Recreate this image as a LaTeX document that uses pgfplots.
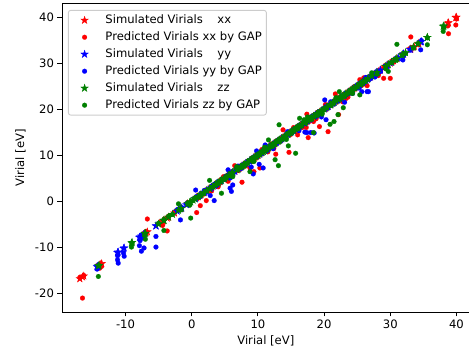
\documentclass[border=0pt]{standalone}
\usepackage{fontspec}
\setmainfont{DejaVu Sans}
\usepackage{pgfplots}
\usepackage{pgfplotstable}
\pgfplotsset{compat=1.18}
\definecolor{mred}{rgb}{1,0,0}
\definecolor{mblue}{rgb}{0,0,1}
\definecolor{mgreen}{rgb}{0,0.5,0}
\pgfdeclareplotmark{fstar}{%
  \pgfpathmoveto{\pgfpointpolar{90}{\pgfplotmarksize}}%
  \pgfpathlineto{\pgfpointpolar{126}{0.382\pgfplotmarksize}}%
  \pgfpathlineto{\pgfpointpolar{162}{\pgfplotmarksize}}%
  \pgfpathlineto{\pgfpointpolar{198}{0.382\pgfplotmarksize}}%
  \pgfpathlineto{\pgfpointpolar{234}{\pgfplotmarksize}}%
  \pgfpathlineto{\pgfpointpolar{270}{0.382\pgfplotmarksize}}%
  \pgfpathlineto{\pgfpointpolar{306}{\pgfplotmarksize}}%
  \pgfpathlineto{\pgfpointpolar{342}{0.382\pgfplotmarksize}}%
  \pgfpathlineto{\pgfpointpolar{18}{\pgfplotmarksize}}%
  \pgfpathlineto{\pgfpointpolar{54}{0.382\pgfplotmarksize}}%
  \pgfpathclose
  \pgfusepathqfillstroke}

\pgfplotstableread{
s p
-16.9 -16.6
-16.5 -21.1
-16.3 -16.2
-13.9 -14.6
-13.8 -13.9
-13.6 -14.2
-6.9 -6.6
-6.7 -3.9
-4.4 -5.3
-4.3 -4.3
-3.7 -6.5
-3.5 -3.4
-2.6 -2.4
-1.6 -1.5
-0.6 -0.3
0.75 -2.5
1.3 -1.0
0.9 0.8
1.8 1.5
2.2 0.1
2.6 2.3
3.0 2.2
3.4 3.2
4.0 3.1
4.2 4.3
4.8 5.3
5.2 5.4
5.5 4.3
5.9 5.2
6.1 5.5
6.5 7.7
6.9 6.6
7.2 6.8
7.6 4.1
7.9 7.6
8.2 7.7
8.8 7.2
8.9 8.6
9.4 6.4
9.6 9.3
10.0 9.6
10.3 7.2
10.6 11.2
11.2 11.0
11.5 10.7
11.8 11.5
12.0 12.4
12.4 11.4
12.7 10.2
13.0 12.8
13.4 13.1
13.8 15.5
14.2 14.0
14.5 14.9
14.7 10.6
14.8 14.4
15.4 16.0
15.7 15.2
16.0 14.4
16.4 16.1
16.7 16.0
17.0 16.9
17.3 16.0
17.4 18.9
17.6 13.8
17.9 17.5
18.1 17.9
18.4 17.3
18.8 17.9
19.0 19.3
19.3 16.2
19.6 19.3
20.2 21.0
20.5 20.4
20.6 15.1
21.0 20.8
21.3 21.5
21.7 23.3
22.0 21.7
22.2 18.8
22.5 22.2
22.8 21.6
23.3 22.3
23.6 22.6
23.9 23.6
24.2 24.0
24.5 24.8
25.0 24.6
25.4 26.4
25.7 25.2
26.0 26.8
26.5 25.1
27.0 26.7
27.3 27.0
27.6 27.3
28.2 27.3
28.5 28.2
29.0 26.7
29.2 28.9
29.6 29.4
30.0 26.7
30.5 30.2
31.0 30.8
32.0 31.8
33.0 33.2
33.1 35.7
33.6 33.3
34.3 34.0
38.7 38.1
38.8 36.4
39.9 38.3
40.0 39.6
}\xxdata

\pgfplotstableread{
s p
-14.3 -14.8
-14.1 -14.2
-14.2 -14.5
-11.2 -11.9
-11.2 -12.8
-11.1 -13.5
-10.3 -11.3
-10.2 -12.0
-7.9 -9.7
-7.8 -8.6
-7.6 -10.9
-7.2 -10.2
-7.3 -8.0
-5.4 -7.7
-5.4 -10.0
-2.2 -1.9
-1.7 -4.1
-1.5 -1.4
-0.8 -0.6
0.5 0.65
0.6 2.4
1.2 1.0
1.9 2.3
2.2 1.9
2.8 1.2
3.0 2.9
3.4 0.1
3.8 3.4
4.4 4.2
4.9 4.7
5.5 6.8
5.8 5.0
5.8 2.8
6.0 2.1
6.2 3.5
6.5 6.3
7.0 7.6
7.5 7.1
8.2 8.0
8.7 8.5
9.0 7.4
9.3 5.9
9.8 10.9
10.2 8.0
10.5 10.3
10.8 7.2
11.1 12.2
11.4 11.0
11.8 11.9
12.3 11.4
12.8 12.5
13.2 13.0
13.6 13.2
14.0 13.7
14.5 15.1
15.0 14.7
15.4 15.1
15.8 15.6
16.2 15.3
16.6 16.3
17.0 16.8
17.1 15.0
17.4 14.9
17.8 17.6
18.0 14.9
18.5 14.8
18.7 18.4
19.1 18.7
19.6 18.3
20.1 22.0
20.3 17.7
20.6 20.3
21.0 21.6
21.5 21.1
22.0 21.7
22.5 22.2
23.1 21.5
23.6 23.3
24.3 23.4
24.8 24.5
25.1 24.9
25.3 24.6
25.7 23.8
26.0 25.6
26.3 26.9
26.5 23.8
26.7 23.8
27.0 26.6
27.4 27.2
27.7 27.0
27.8 27.4
28.0 27.7
28.5 28.2
29.5 29.2
30.2 30.0
31.2 31.0
31.9 30.7
32.0 31.6
33.0 32.8
34.6 32.9
34.7 34.9
}\yydata

\pgfplotstableread{
s p
-14.1 -16.4
-14.0 -14.0
-9.1 -10.0
-9.0 -9.3
-7.1 -7.3
-7.0 -8.3
-5.0 -4.8
-4.2 -6.4
-4.2 -4.0
-3.5 -3.3
-2.9 -2.9
-2.0 -0.6
-1.6 -1.9
-0.6 -0.5
-0.3 -0.9
-0.15 -3.7
0.2 0.1
0.5 0.6
1.0 0.8
1.4 1.2
1.8 1.6
2.3 2.2
2.7 4.5
3.2 3.0
3.6 3.5
4.0 3.8
4.3 4.2
4.5 1.7
4.9 4.7
5.2 5.0
5.6 5.5
6.0 5.8
6.2 5.3
6.8 7.5
7.0 7.0
7.4 7.3
7.8 7.5
8.0 7.8
8.4 8.2
8.8 6.4
9.0 8.9
9.4 8.6
9.7 9.5
10.0 9.8
10.3 10.1
10.6 10.7
10.8 10.6
11.0 11.7
11.3 11.1
11.6 13.3
12.0 11.8
12.2 12.0
12.5 12.3
12.6 9.0
13.0 12.9
13.1 7.7
13.2 16.6
13.3 13.1
13.6 13.4
14.1 13.9
14.3 13.4
14.6 12.0
14.9 14.7
15.1 14.9
15.4 15.2
15.7 10.4
15.9 15.7
16.0 15.8
16.3 18.0
16.6 16.4
17.0 17.7
17.2 17.0
17.5 18.3
17.9 17.7
18.1 18.0
18.4 14.9
18.8 18.6
19.0 18.9
19.4 19.2
19.7 18.9
20.0 19.8
20.4 20.3
20.9 16.7
21.0 20.8
21.3 21.1
21.5 17.3
21.8 22.5
22.1 18.8
22.3 23.8
22.6 22.4
22.9 20.3
23.0 22.8
23.3 23.1
23.7 23.5
24.0 23.8
24.3 23.4
24.6 24.4
25.0 24.8
25.4 23.1
25.5 25.4
25.8 25.6
26.2 26.0
26.6 26.5
27.2 27.9
28.0 27.6
29.3 28.8
29.7 28.2
30.2 30.1
30.8 30.6
31.0 34.1
31.8 31.7
32.3 32.1
33.5 33.3
34.2 34.3
35.6 34.0
35.6 35.5
38.0 36.9
38.1 37.8
}\zzdata

\begin{document}
\begin{tikzpicture}
\begin{axis}[
  at={(0,0)}, anchor=south west, scale only axis,
  width=408pt, height=309pt,
  xmin=-19.6, xmax=42.0, ymin=-24.13, ymax=43.04,
  xtick={-10,0,10,20,30,40}, ytick={-20,-10,0,10,20,30,40},
  tick align=outside, tick pos=left, major tick length=4.5pt,
  axis line style={line width=0.9pt},
  every tick/.style={black, line width=0.9pt},
  /pgf/number format/assume math mode=true,
  tick label style={font=\fontsize{11.6}{13}\selectfont},
  xlabel={Virial [eV]}, ylabel={Virial [eV]},
  every axis x label/.style={at={(axis description cs:0.5,0)}, anchor=base, yshift=-33pt, inner sep=0pt, font=\fontsize{11.6}{13}\selectfont},
  every axis y label/.style={at={(axis description cs:-0.0931,0.5)}, rotate=90, anchor=base, inner sep=0pt, font=\fontsize{11.6}{13}\selectfont},
  legend cell align=left,
  legend style={at={(axis description cs:0.0147,0.9783)}, anchor=north west,
    draw=black!20, line width=0.9pt, rounded corners=2.3pt, fill=white,
    font=\fontsize{11.6}{13}\selectfont,
    inner xsep=4.6pt, inner ysep=1.4pt, row sep=0pt,
    nodes={text height=9.5pt, text depth=2.5pt, inner xsep=0pt, inner ysep=2.5pt},
    /tikz/every odd column/.append style={column sep=9.3pt}},
  legend image code/.code={\path[draw=none, fill=none] (-11.6pt,-3pt) rectangle (11.6pt,3pt); \draw[sharp corners, #1] plot coordinates {(0pt,0pt)};},
]
\addplot[only marks, mark=fstar, mark size=4pt, mark options={fill=mred, draw=mred, line width=0.3pt}] table[x=s, y=s] {\xxdata};
\addlegendentry{Simulated Virials\hspace{14.5pt}xx}
\addplot[only marks, mark=*, mark size=2.4pt, mark options={fill=mred, draw=mred, line width=0.2pt}] table[x=s, y=p] {\xxdata};
\addlegendentry{Predicted Virials xx by GAP}
\addplot[only marks, mark=fstar, mark size=4pt, mark options={fill=mblue, draw=mblue, line width=0.3pt}] table[x=s, y=s] {\yydata};
\addlegendentry{Simulated Virials\hspace{14.5pt}yy}
\addplot[only marks, mark=*, mark size=2.4pt, mark options={fill=mblue, draw=mblue, line width=0.2pt}] table[x=s, y=p] {\yydata};
\addlegendentry{Predicted Virials yy by GAP}
\addplot[only marks, mark=fstar, mark size=4pt, mark options={fill=mgreen, draw=mgreen, line width=0.3pt}] table[x=s, y=s] {\zzdata};
\addlegendentry{Simulated Virials\hspace{14.5pt}zz}
\addplot[only marks, mark=*, mark size=2.4pt, mark options={fill=mgreen, draw=mgreen, line width=0.2pt}] table[x=s, y=p] {\zzdata};
\addlegendentry{Predicted Virials zz by GAP}
\end{axis}
\pgfresetboundingbox
\path[use as bounding box] (-62pt,-41pt) rectangle (407.3pt,312.2pt);
\end{tikzpicture}
\end{document}
